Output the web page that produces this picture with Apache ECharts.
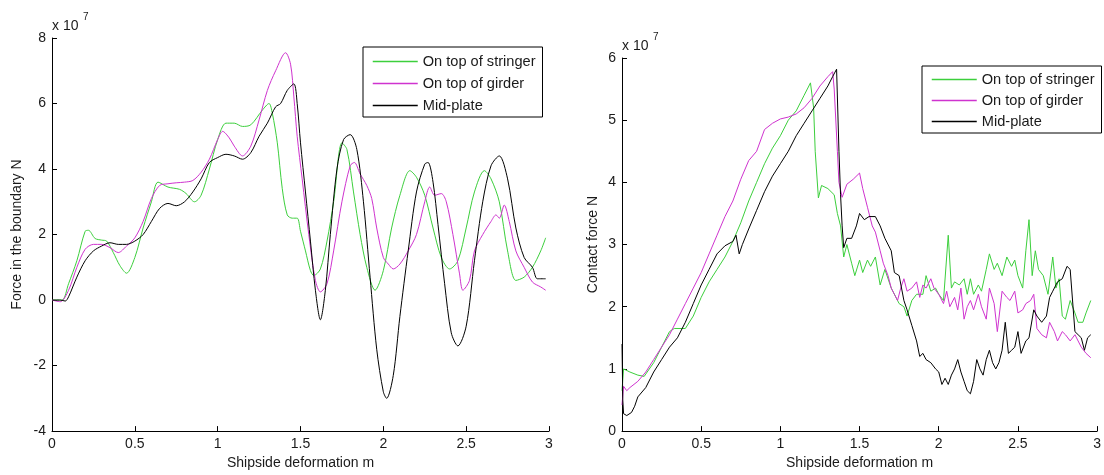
<!DOCTYPE html>
<html>
<head>
<meta charset="utf-8">
<script src="https://cdn.jsdelivr.net/npm/echarts@6/dist/echarts.min.js"></script>
<style>html,body{margin:0;padding:0;background:#fff}#c{width:1104px;height:475px}</style>
</head>
<body>
<div id="c"></div>
<script>
// ---- names ----
var seriesNames = ['On top of stringer', 'On top of girder', 'Mid-plate'];
var xTicksLabel = 'Shipside deformation m';
var leftYLabel = 'Force in the boundary N';
var rightYLabel = 'Contact force N';

// ---- left chart (force in boundary, x1e7) ----
var lStringerX = [0,0.06,0.1,0.15,0.2,0.22,0.26,0.3,0.33,0.37,0.41,0.45,0.5,0.55,0.6,0.64,0.7,0.77,0.81,0.86,0.9,0.95,1.0,1.05,1.1,1.15,1.2,1.27,1.31,1.33,1.36,1.39,1.42,1.45,1.48,1.5,1.53,1.56,1.58,1.62,1.66,1.7,1.75,1.78,1.82,1.86,1.9,1.95,2.0,2.05,2.1,2.16,2.2,2.25,2.3,2.35,2.4,2.45,2.5,2.55,2.61,2.65,2.7,2.75,2.8,2.85,2.9,2.95,2.98];
var lStringerY = [0,0,0.5,1.2,2.1,2.13,1.88,1.83,1.8,1.45,1.05,0.82,1.3,2.2,3.0,3.6,3.45,3.38,3.25,3.0,3.2,4.0,4.9,5.4,5.4,5.3,5.35,5.8,6.0,5.7,4.8,3.4,2.6,2.5,2.5,2.1,1.5,0.9,0.75,0.95,1.8,3.0,4.8,4.6,3.3,2.0,1.0,0.3,0.9,2.2,3.2,3.95,3.75,3.2,2.2,1.3,0.95,1.2,2.2,3.3,3.95,3.7,3.0,1.5,0.6,0.7,1.0,1.5,1.9];
var lGirderX = [0,0.05,0.1,0.15,0.2,0.25,0.3,0.35,0.4,0.45,0.5,0.55,0.6,0.65,0.7,0.75,0.8,0.85,0.9,0.95,1.0,1.03,1.07,1.1,1.15,1.2,1.25,1.3,1.35,1.41,1.44,1.46,1.48,1.51,1.55,1.59,1.62,1.66,1.7,1.75,1.8,1.825,1.86,1.9,1.93,1.96,2.0,2.03,2.06,2.1,2.15,2.2,2.25,2.28,2.31,2.35,2.38,2.42,2.46,2.48,2.52,2.55,2.6,2.65,2.68,2.7,2.73,2.76,2.8,2.85,2.9,2.95,2.98];
var lGirderY = [0,-0.05,0.3,1.0,1.55,1.7,1.7,1.6,1.45,1.65,1.9,2.4,3.1,3.5,3.55,3.58,3.6,3.65,3.9,4.3,4.9,5.15,4.95,4.7,4.4,4.7,5.5,6.4,7.0,7.55,7.2,6.2,5.0,3.7,2.0,0.6,0.25,0.5,1.5,3.0,4.1,4.2,3.85,3.5,3.1,2.2,1.3,1.1,0.95,1.1,1.5,2.0,3.0,3.45,3.2,3.25,3.0,2.0,0.8,0.3,0.6,1.5,2.0,2.4,2.6,2.5,2.9,2.4,1.5,1.0,0.55,0.4,0.3];
var lMidX = [0,0.05,0.08,0.1,0.15,0.2,0.25,0.3,0.35,0.4,0.45,0.5,0.55,0.6,0.65,0.7,0.75,0.8,0.85,0.9,0.95,1.0,1.05,1.1,1.15,1.2,1.25,1.3,1.35,1.38,1.42,1.46,1.48,1.5,1.53,1.56,1.59,1.62,1.65,1.68,1.72,1.76,1.8,1.84,1.88,1.92,1.96,2.0,2.02,2.06,2.1,2.15,2.2,2.25,2.27,2.3,2.33,2.37,2.41,2.45,2.5,2.55,2.6,2.65,2.7,2.75,2.8,2.85,2.9,2.93,2.98];
var lMidY = [0,0,-0.03,0.1,0.7,1.2,1.5,1.65,1.75,1.7,1.7,1.8,2.0,2.4,2.8,2.95,2.88,3.0,3.3,3.7,4.2,4.35,4.45,4.4,4.3,4.5,5.0,5.4,5.9,6.0,6.4,6.6,6.0,4.8,3.3,1.8,0.3,-0.6,0.3,2.0,4.0,4.9,5.05,4.6,3.0,0.7,-1.5,-2.8,-3.0,-2.3,-0.5,1.5,3.3,4.15,4.2,3.6,2.3,0.5,-1.0,-1.4,-0.8,1.2,3.0,4.1,4.4,3.7,2.2,1.3,1.0,0.65,0.65];

// ---- right chart (contact force, x1e7) ----
var rStringerX = [0,0.01,0.05,0.1,0.14,0.2,0.25,0.3,0.33,0.4,0.45,0.5,0.55,0.6,0.65,0.7,0.75,0.8,0.85,0.9,0.95,1.0,1.05,1.1,1.15,1.19,1.21,1.22,1.24,1.26,1.3,1.34,1.36,1.38,1.4,1.42,1.45,1.47,1.5,1.52,1.55,1.57,1.6,1.63,1.66,1.7,1.75,1.78,1.8,1.83,1.86,1.9,1.92,1.95,1.98,2.0,2.03,2.06,2.08,2.1,2.13,2.16,2.18,2.2,2.22,2.25,2.27,2.3,2.32,2.35,2.37,2.4,2.43,2.46,2.48,2.5,2.53,2.55,2.57,2.59,2.61,2.63,2.66,2.69,2.72,2.74,2.76,2.78,2.8,2.83,2.86,2.88,2.91,2.93,2.96];
var rStringerY = [0.65,1.0,0.95,0.9,0.88,1.1,1.35,1.6,1.65,1.65,1.85,2.15,2.4,2.6,2.8,3.05,3.35,3.7,4.0,4.3,4.55,4.75,5.0,5.15,5.4,5.6,5.2,4.5,3.75,3.95,3.9,3.8,3.5,3.3,2.8,3.0,2.7,2.5,2.75,2.55,2.75,2.65,2.8,2.35,2.6,2.3,2.05,2.0,1.85,2.1,2.2,2.2,2.5,2.25,2.3,2.2,2.1,3.15,2.3,2.4,2.35,2.45,2.2,2.45,2.2,2.35,2.25,2.6,2.85,2.6,2.7,2.5,2.8,2.65,2.75,2.5,2.3,2.9,3.4,2.5,2.9,2.6,2.5,2.2,2.8,2.3,2.45,1.85,1.8,2.1,1.9,1.75,1.75,1.9,2.1];
var rGirderX = [0,0.01,0.03,0.05,0.1,0.15,0.2,0.25,0.3,0.35,0.4,0.45,0.5,0.55,0.6,0.65,0.7,0.75,0.8,0.85,0.9,0.95,1.0,1.05,1.1,1.15,1.2,1.25,1.3,1.33,1.34,1.36,1.37,1.39,1.42,1.46,1.5,1.52,1.55,1.58,1.6,1.63,1.65,1.68,1.7,1.72,1.74,1.76,1.78,1.8,1.83,1.86,1.88,1.9,1.92,1.95,1.97,2.0,2.03,2.05,2.07,2.1,2.12,2.14,2.16,2.18,2.2,2.22,2.25,2.27,2.3,2.32,2.35,2.37,2.4,2.43,2.45,2.48,2.5,2.53,2.55,2.58,2.6,2.62,2.65,2.68,2.7,2.73,2.75,2.78,2.8,2.83,2.86,2.9,2.93,2.96];
var rGirderY = [0.42,0.72,0.65,0.7,0.8,0.95,1.15,1.35,1.55,1.8,2.05,2.3,2.55,2.85,3.15,3.45,3.7,4.05,4.35,4.5,4.85,4.95,5.02,5.05,5.1,5.2,5.35,5.55,5.7,5.78,5.5,4.5,4.0,3.76,3.97,4.05,4.15,3.9,3.6,3.3,3.2,2.9,2.7,2.5,2.3,2.2,2.1,2.3,2.45,2.25,2.3,2.4,2.15,2.35,2.3,2.45,2.3,2.2,2.05,2.25,2.0,2.15,1.95,2.3,1.8,2.0,2.1,1.95,2.2,2.0,1.8,2.3,2.05,1.6,2.25,2.15,2.1,2.25,1.9,1.95,2.05,2.1,2.2,1.65,1.55,1.5,1.75,1.6,1.45,1.6,1.55,1.45,1.55,1.35,1.25,1.18];
var rMidX = [0,0.005,0.01,0.03,0.06,0.08,0.1,0.15,0.2,0.25,0.3,0.35,0.4,0.45,0.5,0.55,0.6,0.65,0.7,0.72,0.74,0.76,0.8,0.85,0.9,0.95,1.0,1.05,1.1,1.15,1.2,1.25,1.3,1.33,1.355,1.37,1.38,1.39,1.4,1.42,1.45,1.48,1.5,1.53,1.56,1.6,1.63,1.66,1.7,1.72,1.75,1.78,1.8,1.83,1.86,1.88,1.9,1.92,1.95,1.98,2.0,2.02,2.04,2.06,2.08,2.1,2.12,2.14,2.16,2.18,2.2,2.22,2.24,2.26,2.28,2.3,2.32,2.34,2.36,2.38,2.4,2.42,2.44,2.46,2.48,2.5,2.52,2.55,2.57,2.6,2.62,2.65,2.68,2.7,2.72,2.75,2.78,2.81,2.83,2.86,2.88,2.9,2.92,2.94,2.96];
var rMidY = [1.4,0.5,0.28,0.25,0.3,0.4,0.55,0.7,0.95,1.15,1.35,1.5,1.75,2.05,2.35,2.6,2.85,2.98,3.05,3.15,2.85,3.0,3.25,3.55,3.85,4.1,4.3,4.5,4.75,4.95,5.15,5.35,5.55,5.7,5.82,4.5,3.8,3.3,2.95,3.1,3.1,3.3,3.5,3.4,3.45,3.45,3.3,3.1,2.9,2.55,2.5,2.1,1.95,1.7,1.45,1.2,1.25,1.15,1.1,1.0,0.95,0.75,0.85,0.75,0.9,1.0,1.15,0.95,0.8,0.65,0.6,0.8,1.15,1.0,0.9,1.15,1.3,1.1,1.0,1.1,1.3,1.75,1.25,1.3,1.35,1.6,1.25,1.45,1.5,1.95,1.85,1.75,1.85,2.15,2.25,2.4,2.45,2.65,2.6,1.6,1.55,1.5,1.3,1.5,1.55];

// ---- axis ticks ----
var xMin = 0, xMax = 3, xStep = 0.5;
var lYMin = -4, lYMax = 8, lYStep = 2;
var rYMin = 0, rYMax = 6, rYStep = 1;
var scaleLabel = 'x 10', scaleExp = '7';

var colors = ['#3ccf3c', '#cf33cf', '#000000'];
function pairs(xs, ys) { return xs.map(function (x, i) { return [x, ys[i]]; }); }

var FONT = 'Liberation Sans, Arial, sans-serif';
var TXT = '#1a1a1a';

function xAxis(gi) {
  return {
    type: 'value', gridIndex: gi, min: xMin, max: xMax, interval: xStep,
    name: xTicksLabel, nameLocation: 'middle', nameGap: 23,
    nameTextStyle: { fontFamily: FONT, fontSize: 14, color: TXT },
    axisLine: { show: true, onZero: false, lineStyle: { color: '#000', width: 1 } },
    axisTick: { show: true, inside: true, length: 5, lineStyle: { color: '#000' } },
    axisLabel: { fontFamily: FONT, fontSize: 14, color: TXT, margin: 6 },
    splitLine: { show: false }
  };
}
function yAxis(gi, mn, mx, st, name, gap) {
  return {
    type: 'value', gridIndex: gi, min: mn, max: mx, interval: st,
    name: name, nameLocation: 'middle', nameGap: gap, nameRotate: 90,
    nameTextStyle: { fontFamily: FONT, fontSize: 14, color: TXT },
    axisLine: { show: true, onZero: false, lineStyle: { color: '#000', width: 1 } },
    axisTick: { show: true, inside: true, length: 5, lineStyle: { color: '#000' } },
    axisLabel: { fontFamily: FONT, fontSize: 14, color: TXT, margin: 6 },
    splitLine: { show: false }
  };
}
function line(name, gi, data, color, smooth) {
  return {
    name: name, type: 'line', xAxisIndex: gi, yAxisIndex: gi, data: data,
    symbol: 'none', showSymbol: false, smooth: smooth, animation: false,
    lineStyle: { color: color, width: 1 }, itemStyle: { color: color }
  };
}
function legend(left, top, pad, gap) {
  return {
    orient: 'vertical', left: left, top: top, padding: pad, itemGap: gap,
    itemWidth: 45, itemHeight: 15, data: seriesNames,
    itemStyle: { opacity: 0, borderWidth: 0 },
    lineStyle: { width: 1.5 },
    backgroundColor: '#fff', borderColor: '#000', borderWidth: 1, borderRadius: 0,
    textStyle: { fontFamily: FONT, fontSize: 14.6, color: TXT },
    selectedMode: false
  };
}

var chart = echarts.init(document.getElementById('c'), null, { renderer: 'canvas' });
chart.setOption({
  animation: false,
  backgroundColor: '#fff',
  grid: [
    { left: 52, top: 38, width: 497, height: 398 },
    { left: 622, top: 58, width: 479, height: 378 }
  ],
  xAxis: [xAxis(0), xAxis(1)],
  yAxis: [yAxis(0, lYMin, lYMax, lYStep, leftYLabel, 28), yAxis(1, rYMin, rYMax, rYStep, rightYLabel, 22)],
  legend: [legend(363, 47, [7, 7, 4, 9], 7), legend(922, 66, [6, 7, 4, 9], 6)],
  graphic: [
    { type: 'text', left: 52, top: 19, style: { text: scaleLabel, font: '14px ' + FONT, fill: TXT } },
    { type: 'text', left: 83, top: 12, style: { text: scaleExp, font: '10px ' + FONT, fill: TXT } },
    { type: 'text', left: 622, top: 39, style: { text: scaleLabel, font: '14px ' + FONT, fill: TXT } },
    { type: 'text', left: 653, top: 32, style: { text: scaleExp, font: '10px ' + FONT, fill: TXT } }
  ],
  series: [
    line(seriesNames[0], 0, pairs(lStringerX, lStringerY), colors[0], 0.3),
    line(seriesNames[1], 0, pairs(lGirderX, lGirderY), colors[1], 0.3),
    line(seriesNames[2], 0, pairs(lMidX, lMidY), colors[2], 0.3),
    line(seriesNames[0], 1, pairs(rStringerX, rStringerY), colors[0], false),
    line(seriesNames[1], 1, pairs(rGirderX, rGirderY), colors[1], false),
    line(seriesNames[2], 1, pairs(rMidX, rMidY), colors[2], false)
  ]
});
</script>
</body>
</html>
